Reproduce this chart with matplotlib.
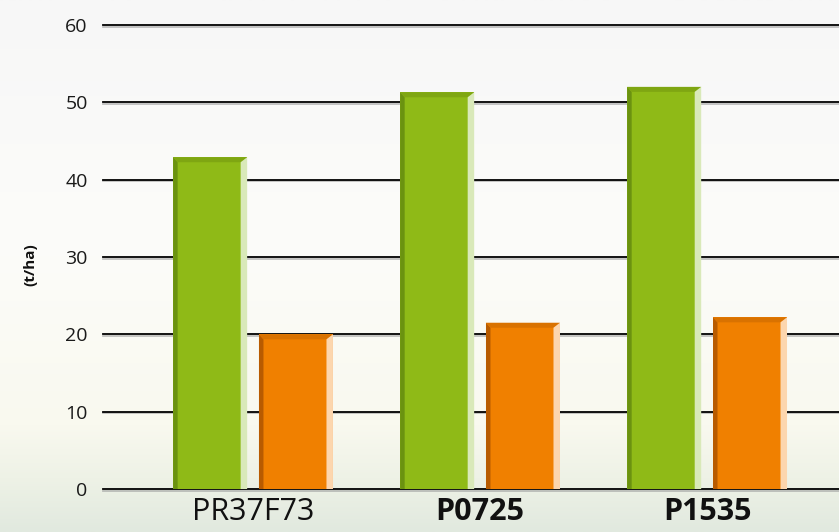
import matplotlib
matplotlib.use("Agg")
import matplotlib.pyplot as plt
import matplotlib.patheffects as pe
from matplotlib.colors import LinearSegmentedColormap
from matplotlib.patches import Polygon
import numpy as np

# --- data ---
varieties = ["PR37F73", "P0725", "P1535"]
bold_label = [False, True, True]
green_vals = [42.9, 51.3, 52.0]
orange_vals = [20.0, 21.5, 22.2]
yticks = [0, 10, 20, 30, 40, 50, 60]

W, H, DPI = 839, 532, 100
fig = plt.figure(figsize=(W / DPI, H / DPI), dpi=DPI)

# background gradient (white/grey top -> cream -> pale green bottom)
bg = fig.add_axes([0, 0, 1, 1], zorder=-10)
bg_cmap = LinearSegmentedColormap.from_list(
    "bg", [(0.0, "#f7f7f7"), (0.45, "#fcfcfa"), (0.8, "#f9f9ef"), (0.9, "#eef2e6"), (1.0, "#e1e9df")])
bg.imshow(np.linspace(0, 1, 256)[:, None], aspect="auto", cmap=bg_cmap, extent=[0, 1, 0, 1])
bg.set_axis_off()

ax = fig.add_axes([103 / W, (H - 489) / H, (W - 103) / W, (489 - 25) / H])
ax.patch.set_alpha(0)
ax.set_xlim(-0.661, 2.581)
ax.set_ylim(0, 60)
for s in ax.spines.values():
    s.set_visible(False)

for y in yticks:
    ax.axhline(y, color="black", lw=1.3, clip_on=False, zorder=1,
               path_effects=[pe.SimpleLineShadow(offset=(0, -1.2), shadow_color="#999999", alpha=0.6),
                             pe.Normal()])

# pixel -> data unit conversions for bevel strips
px_x = (2.581 + 0.661) / (W - 103)
px_y = 60 / (489 - 25)
bar_w = 0.326
offset = 0.189


def bevel_bar(xc, h, main, left, top, right):
    x0, x1 = xc - bar_w / 2, xc + bar_w / 2
    lw_, tw, rw = 4.5 * px_x, 5 * px_y, 6.5 * px_x
    ax.add_patch(Polygon([(x0, 0), (x1, 0), (x1, h), (x0, h)], closed=True, fc=main, ec="none", zorder=3))
    ax.add_patch(Polygon([(x0, 0), (x0 + lw_, 0), (x0 + lw_, h - tw), (x0, h)], closed=True,
                         fc=left, ec="none", zorder=4))
    ax.add_patch(Polygon([(x0, h), (x1, h), (x1 - rw, h - tw), (x0 + lw_, h - tw)], closed=True,
                         fc=top, ec="none", zorder=4))
    ax.add_patch(Polygon([(x1 - rw, 0), (x1, 0), (x1, h), (x1 - rw, h - tw)], closed=True,
                         fc=right, ec="none", zorder=4))


x = np.arange(len(varieties))
for i in x:
    bevel_bar(i - offset, green_vals[i], "#8fba17", "#6b9210", "#7fa612", "#d9e9b9")
    bevel_bar(i + offset, orange_vals[i], "#f08000", "#b85b00", "#d97200", "#fcd6ae")

ax.set_yticks(yticks)
ax.set_yticklabels([str(v) for v in yticks], fontsize=14, fontfamily="Open Sans", color="#1a1a1a")
ax.set_xticks(x)
ax.set_xticklabels(varieties, fontsize=22, fontfamily="Open Sans", color="#111111")
for lab, b in zip(ax.get_xticklabels(), bold_label):
    lab.set_fontweight("bold" if b else "normal")
ax.tick_params(axis="y", length=0, pad=11)
ax.tick_params(axis="x", length=0, pad=6)

fig.text(30 / W, 1 - 265 / H, "(t/ha)", rotation=90, fontsize=11, fontweight="bold",
         fontfamily="Open Sans", ha="center", va="center", color="#111111")

fig.savefig("out.png", dpi=DPI)
